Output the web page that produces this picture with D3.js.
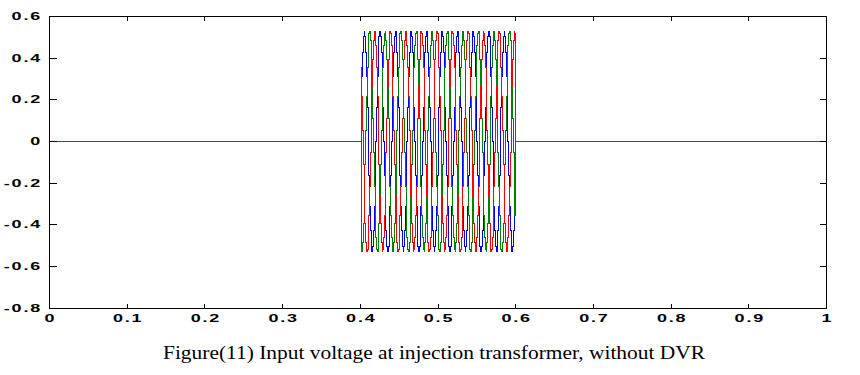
<!DOCTYPE html>
<meta charset="utf-8">

<!-- Load d3.js -->
<script src="https://d3js.org/d3.v7.min.js"></script>

<style>
  body { margin: 0; background: #fff; }
</style>

<!-- Create a div where the graph will take place -->
<div id="my_dataviz"></div>

<script>

// axis ticks
var xTicks = [0, 0.1, 0.2, 0.3, 0.4, 0.5, 0.6, 0.7, 0.8, 0.9, 1];
var yTicks = [-0.8, -0.6, -0.4, -0.2, 0, 0.2, 0.4, 0.6];

// samples of the three phases, one every 1 ms from t = 0.4 s to t = 0.6 s
var tStart = 0.4, tStep = 0.001;

// phase a (blue)
var phaseA = [
  0, 0.164, 0.312, 0.429, 0.504, 0.53, 0.504, 0.429, 0.312, 0.164, 0, -0.164, -0.312, -0.429, -0.504, -0.53, -0.504, -0.429, -0.312, -0.164,
  0, 0.164, 0.312, 0.429, 0.504, 0.53, 0.504, 0.429, 0.312, 0.164, 0, -0.164, -0.312, -0.429, -0.504, -0.53, -0.504, -0.429, -0.312, -0.164,
  0, 0.164, 0.312, 0.429, 0.504, 0.53, 0.504, 0.429, 0.312, 0.164, 0, -0.164, -0.312, -0.429, -0.504, -0.53, -0.504, -0.429, -0.312, -0.164,
  0, 0.164, 0.312, 0.429, 0.504, 0.53, 0.504, 0.429, 0.312, 0.164, 0, -0.164, -0.312, -0.429, -0.504, -0.53, -0.504, -0.429, -0.312, -0.164,
  0, 0.164, 0.312, 0.429, 0.504, 0.53, 0.504, 0.429, 0.312, 0.164, 0, -0.164, -0.312, -0.429, -0.504, -0.53, -0.504, -0.429, -0.312, -0.164,
  0, 0.164, 0.312, 0.429, 0.504, 0.53, 0.504, 0.429, 0.312, 0.164, 0, -0.164, -0.312, -0.429, -0.504, -0.53, -0.504, -0.429, -0.312, -0.164,
  0, 0.164, 0.312, 0.429, 0.504, 0.53, 0.504, 0.429, 0.312, 0.164, 0, -0.164, -0.312, -0.429, -0.504, -0.53, -0.504, -0.429, -0.312, -0.164,
  0, 0.164, 0.312, 0.429, 0.504, 0.53, 0.504, 0.429, 0.312, 0.164, 0, -0.164, -0.312, -0.429, -0.504, -0.53, -0.504, -0.429, -0.312, -0.164,
  0, 0.164, 0.312, 0.429, 0.504, 0.53, 0.504, 0.429, 0.312, 0.164, 0, -0.164, -0.312, -0.429, -0.504, -0.53, -0.504, -0.429, -0.312, -0.164,
  0, 0.164, 0.312, 0.429, 0.504, 0.53, 0.504, 0.429, 0.312, 0.164, 0, -0.164, -0.312, -0.429, -0.504, -0.53, -0.504, -0.429, -0.312, -0.164,
  0
];

// phase b (green)
var phaseB = [
  0, -0.518, -0.527, -0.484, -0.394, -0.265, -0.11, 0.055, 0.216, 0.355, 0.459, 0.518, 0.527, 0.484, 0.394, 0.265, 0.11, -0.055, -0.216, -0.355,
  -0.459, -0.518, -0.527, -0.484, -0.394, -0.265, -0.11, 0.055, 0.216, 0.355, 0.459, 0.518, 0.527, 0.484, 0.394, 0.265, 0.11, -0.055, -0.216, -0.355,
  -0.459, -0.518, -0.527, -0.484, -0.394, -0.265, -0.11, 0.055, 0.216, 0.355, 0.459, 0.518, 0.527, 0.484, 0.394, 0.265, 0.11, -0.055, -0.216, -0.355,
  -0.459, -0.518, -0.527, -0.484, -0.394, -0.265, -0.11, 0.055, 0.216, 0.355, 0.459, 0.518, 0.527, 0.484, 0.394, 0.265, 0.11, -0.055, -0.216, -0.355,
  -0.459, -0.518, -0.527, -0.484, -0.394, -0.265, -0.11, 0.055, 0.216, 0.355, 0.459, 0.518, 0.527, 0.484, 0.394, 0.265, 0.11, -0.055, -0.216, -0.355,
  -0.459, -0.518, -0.527, -0.484, -0.394, -0.265, -0.11, 0.055, 0.216, 0.355, 0.459, 0.518, 0.527, 0.484, 0.394, 0.265, 0.11, -0.055, -0.216, -0.355,
  -0.459, -0.518, -0.527, -0.484, -0.394, -0.265, -0.11, 0.055, 0.216, 0.355, 0.459, 0.518, 0.527, 0.484, 0.394, 0.265, 0.11, -0.055, -0.216, -0.355,
  -0.459, -0.518, -0.527, -0.484, -0.394, -0.265, -0.11, 0.055, 0.216, 0.355, 0.459, 0.518, 0.527, 0.484, 0.394, 0.265, 0.11, -0.055, -0.216, -0.355,
  -0.459, -0.518, -0.527, -0.484, -0.394, -0.265, -0.11, 0.055, 0.216, 0.355, 0.459, 0.518, 0.527, 0.484, 0.394, 0.265, 0.11, -0.055, -0.216, -0.355,
  -0.459, -0.518, -0.527, -0.484, -0.394, -0.265, -0.11, 0.055, 0.216, 0.355, 0.459, 0.518, 0.527, 0.484, 0.394, 0.265, 0.11, -0.055, -0.216, -0.355,
  0
];

// phase c (red)
var phaseC = [
  0, 0.355, 0.216, 0.055, -0.11, -0.265, -0.394, -0.484, -0.527, -0.518, -0.459, -0.355, -0.216, -0.055, 0.11, 0.265, 0.394, 0.484, 0.527, 0.518,
  0.459, 0.355, 0.216, 0.055, -0.11, -0.265, -0.394, -0.484, -0.527, -0.518, -0.459, -0.355, -0.216, -0.055, 0.11, 0.265, 0.394, 0.484, 0.527, 0.518,
  0.459, 0.355, 0.216, 0.055, -0.11, -0.265, -0.394, -0.484, -0.527, -0.518, -0.459, -0.355, -0.216, -0.055, 0.11, 0.265, 0.394, 0.484, 0.527, 0.518,
  0.459, 0.355, 0.216, 0.055, -0.11, -0.265, -0.394, -0.484, -0.527, -0.518, -0.459, -0.355, -0.216, -0.055, 0.11, 0.265, 0.394, 0.484, 0.527, 0.518,
  0.459, 0.355, 0.216, 0.055, -0.11, -0.265, -0.394, -0.484, -0.527, -0.518, -0.459, -0.355, -0.216, -0.055, 0.11, 0.265, 0.394, 0.484, 0.527, 0.518,
  0.459, 0.355, 0.216, 0.055, -0.11, -0.265, -0.394, -0.484, -0.527, -0.518, -0.459, -0.355, -0.216, -0.055, 0.11, 0.265, 0.394, 0.484, 0.527, 0.518,
  0.459, 0.355, 0.216, 0.055, -0.11, -0.265, -0.394, -0.484, -0.527, -0.518, -0.459, -0.355, -0.216, -0.055, 0.11, 0.265, 0.394, 0.484, 0.527, 0.518,
  0.459, 0.355, 0.216, 0.055, -0.11, -0.265, -0.394, -0.484, -0.527, -0.518, -0.459, -0.355, -0.216, -0.055, 0.11, 0.265, 0.394, 0.484, 0.527, 0.518,
  0.459, 0.355, 0.216, 0.055, -0.11, -0.265, -0.394, -0.484, -0.527, -0.518, -0.459, -0.355, -0.216, -0.055, 0.11, 0.265, 0.394, 0.484, 0.527, 0.518,
  0.459, 0.355, 0.216, 0.055, -0.11, -0.265, -0.394, -0.484, -0.527, -0.518, -0.459, -0.355, -0.216, -0.055, 0.11, 0.265, 0.394, 0.484, 0.527, 0.518,
  0
];

var seriesColors = ["#0000ff", "#008000", "#ff0000"];
var caption = "Figure(11) Input voltage at injection transformer, without DVR";

// set the dimensions of the graph
var width = 860, height = 375;

var svg = d3.select("#my_dataviz")
  .append("svg")
    .attr("width", width)
    .attr("height", height);

var x = d3.scaleLinear().domain([0, 1]).range([49.5, 826.5]);
var y = d3.scaleLinear().domain([-0.8, 0.6]).range([308.2, 16.5]);

// turn sample arrays into (t, v) points, flat zero outside the window
function toPoints(samples) {
  var pts = [[0, 0]];
  samples.forEach(function(v, i) { pts.push([tStart + i * tStep, v]); });
  pts.push([1, 0]);
  return pts;
}

// held samples (stairs), drawn without anti-aliasing like the old figure
var line = d3.line()
  .curve(d3.curveStepAfter)
  .x(function(d) { return x(d[0]); })
  .y(function(d) { return y(d[1]); });

// blue first, red last (on top)
[phaseA, phaseB, phaseC].forEach(function(s, i) {
  svg.append("path")
    .attr("d", line(toPoints(s)))
    .attr("fill", "none")
    .attr("stroke", seriesColors[i])
    .attr("stroke-width", 1)
    .attr("shape-rendering", "crispEdges");
});

// stretched MATLAB-like tick labels
function styleLabels(g, dx, dy, anchor) {
  g.selectAll(".tick text")
    .attr("x", null).attr("y", null).attr("dy", null)
    .attr("text-anchor", anchor)
    .attr("transform", "translate(" + dx + "," + dy + ") scale(1.8,1)")
    .attr("fill", "#000")
    .style("font-family", "'Liberation Sans', Arial, sans-serif")
    .style("font-size", "10px")
    .style("font-weight", "bold")
    .style("letter-spacing", "1px");
}

function fmt(d) { return String(d); }

// box
svg.append("rect")
  .attr("x", x(0)).attr("y", y(0.6))
  .attr("width", x(1) - x(0)).attr("height", y(-0.8) - y(0.6))
  .attr("fill", "none").attr("stroke", "#000").attr("stroke-width", 1)
  .attr("shape-rendering", "crispEdges");

var gBottom = svg.append("g")
  .attr("transform", "translate(0," + y(-0.8) + ")")
  .call(d3.axisBottom(x).tickValues(xTicks).tickFormat(fmt).tickSize(-4).tickSizeOuter(0).offset(0));
styleLabels(gBottom, 1, 14, "middle");

var gLeft = svg.append("g")
  .attr("transform", "translate(" + x(0) + ",0)")
  .call(d3.axisLeft(y).tickValues(yTicks).tickFormat(fmt).tickSize(-7).tickSizeOuter(0).offset(0));
styleLabels(gLeft, -7.5, 3.5, "end");

svg.append("g")
  .attr("transform", "translate(0," + y(0.6) + ")")
  .call(d3.axisTop(x).tickValues(xTicks).tickFormat("").tickSize(-4).tickSizeOuter(0).offset(0));

svg.append("g")
  .attr("transform", "translate(" + x(1) + ",0)")
  .call(d3.axisRight(y).tickValues(yTicks).tickFormat("").tickSize(-7).tickSizeOuter(0).offset(0));

svg.selectAll(".domain").remove();
svg.selectAll(".tick line").attr("stroke", "#000").attr("shape-rendering", "crispEdges");

// caption
svg.append("text")
  .attr("x", 434).attr("y", 359)
  .attr("text-anchor", "middle")
  .attr("textLength", 542)
  .attr("lengthAdjust", "spacingAndGlyphs")
  .style("font-family", "'Liberation Serif', 'Times New Roman', serif")
  .style("font-size", "19.5px")
  .attr("fill", "#000")
  .text(caption);

</script>
